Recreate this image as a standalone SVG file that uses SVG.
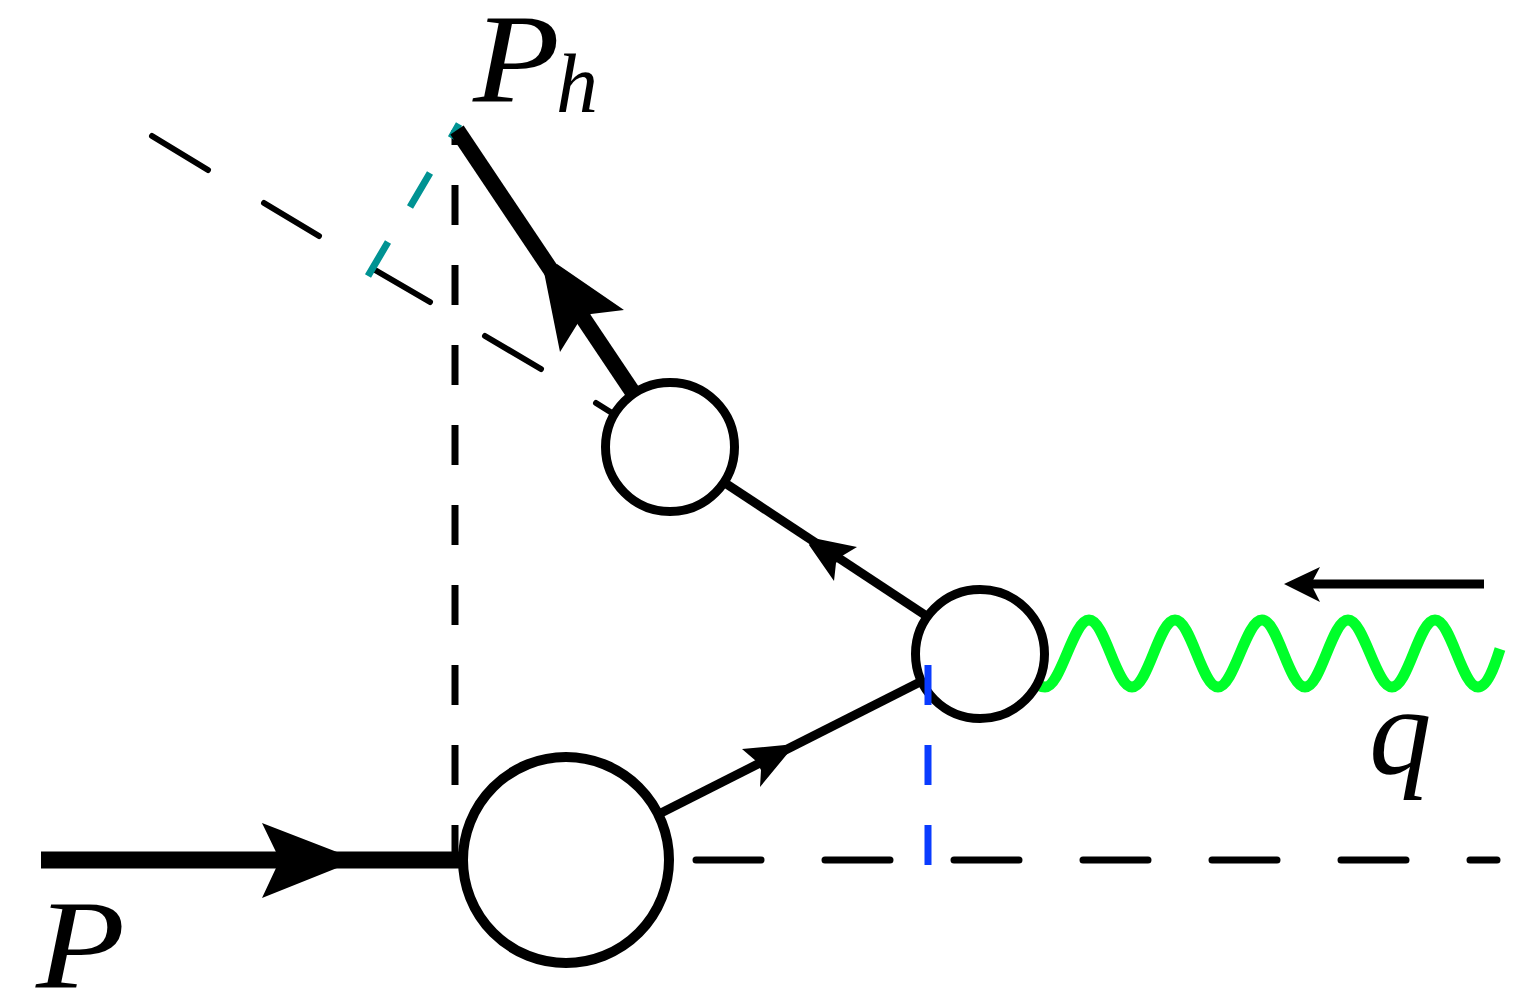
<svg xmlns="http://www.w3.org/2000/svg" width="1522" height="993" viewBox="0 0 1522 993">
<style>
.bg{fill:#fff}
.line{fill:none;stroke:#000}
.head{fill:#000;stroke:none}
.blob{fill:#fff;stroke:#000}
.dash-v{stroke:#000;stroke-width:7;fill:none}
.dash-s{stroke:#000;stroke-width:6;stroke-linecap:round;fill:none}
.dash-h{stroke:#000;stroke-width:7;stroke-linecap:round;fill:none}
.teal{stroke:#009393;stroke-width:7;fill:none}
.blue{stroke:#0a3cff;stroke-width:7;fill:none}
.lab{font-family:"Liberation Serif","Times New Roman",serif;font-style:italic;fill:#000}
</style>
<rect class="bg" width="1522" height="993"/>
<g id="connectors">
<g id="cut-vertical"><path class="dash-v" d="M455 130V145M455 185V225M455 265V305M455 345V385M455 425V465M455 505V545M455 585V625M455 665V705M455 745V785M455 825V860"/></g>
<g id="cut-slanted"><path class="dash-s" d="M152 136L208 170M264 203L319 236M375 270L430 302M485 336L541 369M596 403L612 413"/></g>
<g id="cut-teal"><path class="teal" d="M459 124L451 138M430 173L410 207M388 242L368 276"/></g>
<g id="remnant"><path class="dash-h" d="M696 860H761M825 860H890M954 860H1019M1083 860H1148M1212 860H1277M1341 860H1406M1470 860H1497"/></g>
<g id="photon"><path fill="none" stroke="#00ff2a" stroke-width="11" d="M1030 680C1036 685 1040 687 1045 687C1061 687 1073 620 1089 620C1105 620 1116 687 1132 687C1148 687 1159 620 1175 620C1191 620 1202 687 1218 687C1234 687 1246 620 1262 620C1278 620 1289 687 1305 687C1321 687 1332 620 1348 620C1364 620 1376 687 1392 687C1408 687 1419 620 1435 620C1451 620 1462 687 1478 687C1487 687 1494 668 1500 649"/></g>
<g id="incoming-proton"><path class="line" stroke-width="17" d="M41 860H462"/><path class="head" d="M262 823L337 852V868L262 898L276 868V852Z"/></g>
<g id="outgoing-hadron"><path class="line" stroke-width="16" d="M634 394L457 130"/><path class="head" d="M557 264L624 310L591 314L578 323L560 352L544 272Z"/></g>
<g id="quark-to-hadron"><path class="line" stroke-width="9" d="M925 615L725 483"/><path class="head" d="M813 538L857 547L842 556L836 563L834 581L809 545Z"/></g>
<g id="proton-to-quark"><path class="line" stroke-width="9" d="M661 813L920 682"/><path class="head" d="M742 749L785 745L788 753L760 787L761 770L756 761Z"/></g>
<g id="photon-momentum"><path class="line" stroke-width="9" d="M1484 584H1305"/><path class="head" d="M1284 584L1320 567L1311 584L1320 602Z"/></g>
</g>
<g id="node-large"><circle class="blob" cx="566" cy="860" r="103" stroke-width="10"/></g>
<g id="node-fragment"><circle class="blob" cx="670" cy="447" r="64.5" stroke-width="9"/></g>
<g id="node-vertex"><circle class="blob" cx="980" cy="654" r="64.5" stroke-width="9"/></g>
<g id="cut-blue"><path class="blue" d="M928 665V705M928 745V785M928 825V865"/></g>
<g id="label-P"><text class="lab" transform="translate(36 988) scale(1.15 1)" font-size="127">P</text></g>
<g id="label-Ph"><text class="lab" transform="translate(473 102) scale(1.12 1)" font-size="127">P</text><text class="lab" x="556" y="112" font-size="84">h</text></g>
<g id="label-q"><text class="lab" x="1369" y="773" font-size="125">q</text></g>
</svg>
